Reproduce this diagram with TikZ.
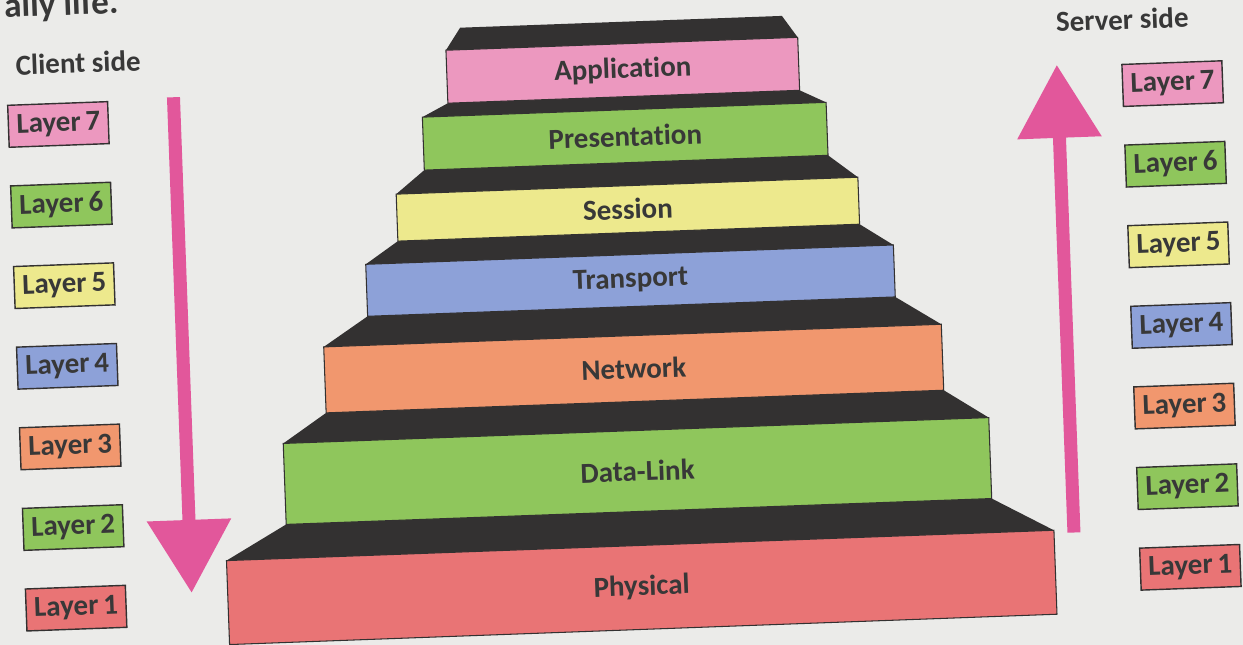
\documentclass[tikz,border=0pt]{standalone}
\usepackage{fontspec}
\setmainfont{Carlito}[Ligatures=NoCommon]
\usetikzlibrary{arrows.meta}

\definecolor{paper}{HTML}{EBEBE9}
\definecolor{inkgray}{HTML}{383838}
\definecolor{stepdark}{HTML}{333131}
\definecolor{apppink}{HTML}{EC98BF}
\definecolor{stepgreen}{HTML}{8FC65C}
\definecolor{sessyellow}{HTML}{EDE98D}
\definecolor{transblue}{HTML}{8DA1D8}
\definecolor{netorange}{HTML}{F1976E}
\definecolor{physred}{HTML}{E97475}
\definecolor{arrowpink}{HTML}{E2579B}

\tikzset{
  lbl/.style={font=\bfseries\fontsize{16.5}{19}\selectfont, text=inkgray},
  face/.style={draw=stepdark, line width=0.6pt},
  layerbox/.style={lbl, draw=stepdark, line width=0.8pt, minimum width=2cm, minimum height=0.84cm, inner sep=0pt},
  bigarrow/.style={arrowpink, line width=0.26cm, -{Triangle[width=1.62cm,length=1.46cm]}}
}

\begin{document}
\begin{tikzpicture}[x=0.02cm, y=-0.02cm]
  \useasboundingbox (0,0) rectangle (1243,645);
  \fill[paper] (0,0) rectangle (1243,645);

  % the scan is a little turned, so is everything on it
  \begin{scope}[rotate around={2.1:(621,322)}, transform shape]
    \node[anchor=base west, font=\bfseries\fontsize{20}{24}\selectfont, text=inkgray] (pagetext) at (10,-5) {aily life.};

    % steps from the bottom up: name/half width/top/bottom/top of dark band/its half width/colour/label
    \foreach \nm/\hw/\ya/\yb/\yu/\hu/\col/\txt in {
        phys/414/546/630/512/353/physred/Physical,
        dl/353/431/512/402/309/stepgreen/Data-Link,
        net/309/336/402/307/264/netorange/Network,
        trans/264/255/307/233/231/transblue/Transport,
        sess/231/186/233/163/202/sessyellow/Session,
        pres/202/110/163/97/176/stepgreen/Presentation,
        app/176/44/97/22/161/apppink/Application} {
      \fill[stepdark] ({632-\hu},\yu) -- ({632+\hu},\yu) -- ({632+\hw},\ya) -- ({632-\hw},\ya) -- cycle;
      \draw[face, fill=\col] ({632-\hw},\ya) rectangle ({632+\hw},\yb);
      \node[lbl] (\nm) at (632,{(\ya+\yb)/2}) {\txt};
    }

    \node[lbl] (client) at (88,43) {Client side};
    \node[lbl] (server) at (1133,38) {Server side};

    \foreach \k/\col in {1/physred,2/stepgreen,3/netorange,4/transblue,5/sessyellow,6/stepgreen,7/apppink} {
      \pgfmathsetmacro{\yy}{588-80.67*(\k-1)}
      \node[layerbox, fill=\col] (cl\k) at (66,\yy) {Layer\,\k};
      \node[layerbox, fill=\col] (sl\k) at (1181,\yy) {Layer\,\k};
    }

    \coordinate (downtop) at (182,81);
    \coordinate (downtip) at (182,577);
    \coordinate (upfoot) at (1066,549);
    \coordinate (uptip) at (1066,81);
    \draw[bigarrow] (downtop) -- (downtip);
    \draw[bigarrow] (upfoot) -- (uptip);
  \end{scope}
\end{tikzpicture}
\end{document}
